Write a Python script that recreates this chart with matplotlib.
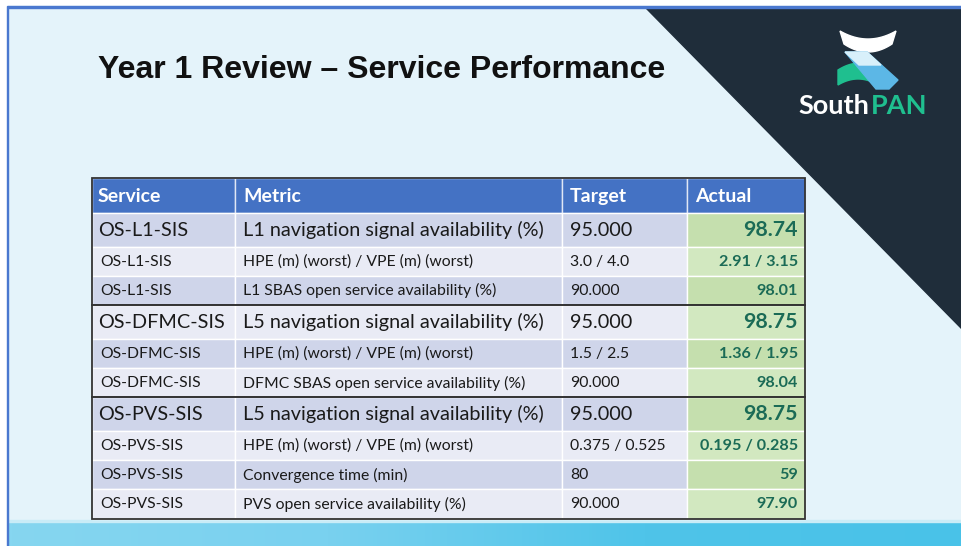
import numpy as np
import matplotlib
matplotlib.use("Agg")
import matplotlib.pyplot as plt
from matplotlib.patches import Rectangle, Polygon

# ---------------------------------------------------------------- data
headers = ["Service", "Metric", "Target", "Actual"]
services = ["OS-L1-SIS", "OS-L1-SIS", "OS-L1-SIS",
            "OS-DFMC-SIS", "OS-DFMC-SIS", "OS-DFMC-SIS",
            "OS-PVS-SIS", "OS-PVS-SIS", "OS-PVS-SIS", "OS-PVS-SIS"]
metrics = ["L1 navigation signal availability (%)",
           "HPE (m) (worst) / VPE (m) (worst)",
           "L1 SBAS open service availability (%)",
           "L5 navigation signal availability (%)",
           "HPE (m) (worst) / VPE (m) (worst)",
           "DFMC SBAS open service availability (%)",
           "L5 navigation signal availability (%)",
           "HPE (m) (worst) / VPE (m) (worst)",
           "Convergence time (min)",
           "PVS open service availability (%)"]
targets = ["95.000", "3.0 / 4.0", "90.000",
           "95.000", "1.5 / 2.5", "90.000",
           "95.000", "0.375 / 0.525", "80", "90.000"]
actuals = ["98.74", "2.91 / 3.15", "98.01",
           "98.75", "1.36 / 1.95", "98.04",
           "98.75", "0.195 / 0.285", "59", "97.90"]
title = "Year 1 Review \u2013 Service Performance"

# ---------------------------------------------------------------- layout
W, H = 961, 546
fig = plt.figure(figsize=(W / 100, H / 100), dpi=100)
ax = fig.add_axes([0, 0, 1, 1])
ax.set_xlim(0, W)
ax.set_ylim(H, 0)
ax.axis("off")

# slide background
ax.add_patch(Rectangle((0, 0), W, H, color="white", zorder=0))
ax.add_patch(Rectangle((8, 6), W - 8, H - 6, color="#e4f3fa", zorder=0))
ax.add_patch(Rectangle((8, 6), W - 8, 1.8, color="#4a78cf", zorder=3))
ax.add_patch(Rectangle((6.5, 6), 1.8, H - 6, color="#4a78cf", zorder=3))

# dark corner triangle
ax.add_patch(Polygon([(645, 7), (W, 7), (W, 328)], closed=True,
                     color="#1f2d3a", zorder=1))

# bottom cyan band (gradient)
grad = np.linspace(0, 1, 256)[None, :]
cmap = matplotlib.colors.LinearSegmentedColormap.from_list(
    "band", ["#86d6f0", "#79d1ef", "#4fc4e9", "#49c2e8"])
ax.imshow(grad, extent=(8, W, H, 522), aspect="auto", cmap=cmap, zorder=2)
ax.add_patch(Rectangle((8, 519.5), W - 8, 2.5, color="#c9ecf7", zorder=2))

# title
ax.text(98, 70, title, fontsize=23, fontweight="bold",
        family="Liberation Sans", color="#111111", va="center", ha="left")

# logo: curved white band, green lower arc, blue diagonal band
t = np.linspace(-1, 1, 30)
top = [(868 + 28 * s, 31 + 8 * (1 - s ** 2)) for s in t]
bot = [(868 + 24 * s, 44 + 8 * (1 - s ** 2)) for s in t[::-1]]
ax.add_patch(Polygon(top + bot, closed=True, color="white", zorder=4))
gtop = [(860 + 22 * s, 70 - 7 * (1 - s ** 2)) for s in t]
gbot = [(858 + 20 * s, 85 - 6 * (1 - s ** 2)) for s in t[::-1]]
ax.add_patch(Polygon(gtop + gbot, closed=True, color="#1fbf8f", zorder=4))
ax.add_patch(Polygon([(845, 52), (867, 52), (898, 80), (889, 89), (876, 89)],
                     closed=True, color="#5cb7e6", zorder=5))
ax.add_patch(Polygon([(845, 52), (867, 52), (881, 65), (859, 65)],
                     closed=True, color="#d8f0fa", zorder=5))
ax.text(869, 106, "South", fontsize=19.5, fontweight="bold", family="Lato",
        color="white", ha="right", va="center")
ax.text(871, 106, "PAN", fontsize=19.5, fontweight="bold", family="Lato",
        color="#1fbf8f", ha="left", va="center")

# ---------------------------------------------------------------- table
col_x = [92, 235, 562, 687, 805]
header_top, header_h = 178, 35
big_h, small_h = 33.5, 29.3

first = [i == 0 or services[i] != services[i - 1] for i in range(len(services))]
row_y = [header_top + header_h]
for f in first:
    row_y.append(row_y[-1] + (big_h if f else small_h))

# header
for c in range(4):
    ax.add_patch(Rectangle((col_x[c], header_top), col_x[c + 1] - col_x[c],
                           header_h, facecolor="#4472c4", edgecolor="#dfe6f5",
                           lw=1, zorder=5))
hdr_x = [98, 243, 570, 695]
for c, h in enumerate(headers):
    ax.text(hdr_x[c], header_top + header_h / 2 + 1, h, fontsize=14,
            fontweight="bold", family="Lato", color="white",
            ha="left", va="center", zorder=6)

# body
for r in range(len(services)):
    y0, y1 = row_y[r], row_y[r + 1]
    shade = r % 2 == 0
    fills = ["#cfd5ea" if shade else "#e9ebf5"] * 3 + \
            ["#c5dfae" if shade else "#d2e8c0"]
    for c in range(4):
        ax.add_patch(Rectangle((col_x[c], y0), col_x[c + 1] - col_x[c], y1 - y0,
                               facecolor=fills[c], edgecolor="white", lw=1,
                               zorder=5))
    big = first[r]
    fs = 14.3 if big else 11.3
    afs = 15.3 if big else 11.6
    yc = (y0 + y1) / 2 + 0.5
    body = "#1a1a1a"
    ax.text(98 if big else 100, yc, services[r], fontsize=fs, family="Lato",
            color=body, ha="left", va="center", zorder=6)
    ax.text(243, yc, metrics[r], fontsize=fs, family="Lato",
            color=body, ha="left", va="center", zorder=6)
    ax.text(570, yc, targets[r], fontsize=fs, family="Lato",
            color=body, ha="left", va="center", zorder=6)
    ax.text(798, yc, actuals[r], fontsize=afs, family="Lato",
            fontweight="bold", color="#1b6b56", ha="right", va="center",
            zorder=6)

# group separators and outer border
for r in range(1, len(services)):
    if first[r]:
        ax.plot([col_x[0], col_x[-1]], [row_y[r], row_y[r]], color="#222222",
                lw=1.3, zorder=7)
ax.add_patch(Rectangle((col_x[0], header_top), col_x[-1] - col_x[0],
                       row_y[-1] - header_top, fill=False,
                       edgecolor="#333333", lw=1.3, zorder=7))

fig.savefig("out.png", dpi=100)
